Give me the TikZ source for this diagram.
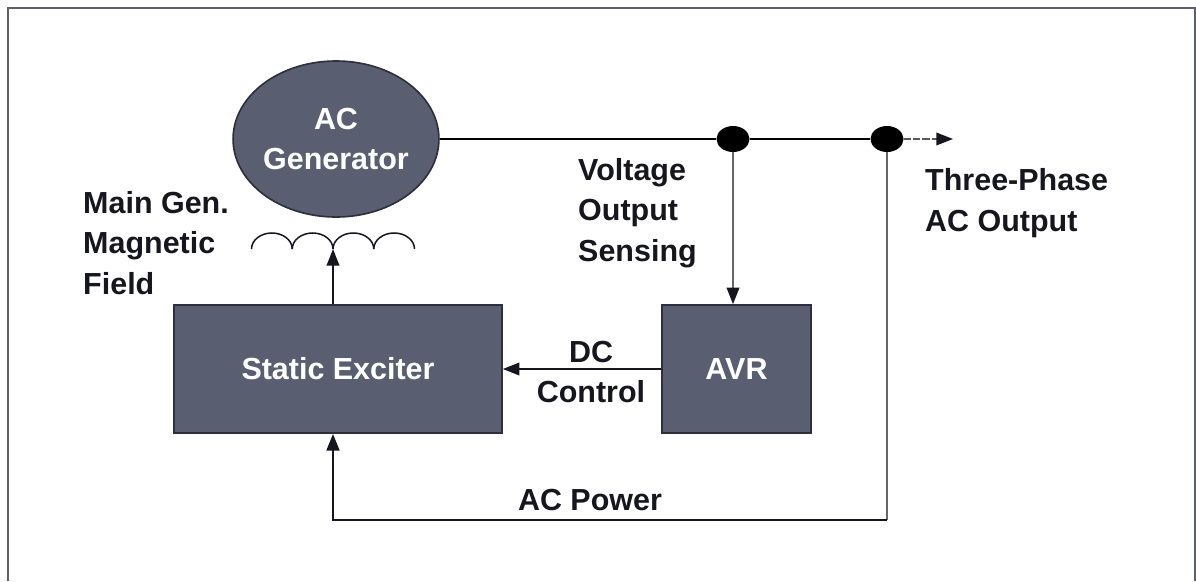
\documentclass[tikz,border=0pt]{standalone}
\usepackage{fontspec}
\setmainfont{Liberation Sans}
\usetikzlibrary{arrows.meta,shapes.geometric}
\definecolor{bxFill}{RGB}{89,94,113}
\definecolor{bxDraw}{RGB}{45,47,60}
\definecolor{txDark}{RGB}{22,22,30}
\definecolor{frGray}{RGB}{95,95,105}
\newcommand{\pxl}{0.3mm}

\begin{document}
\begin{tikzpicture}[x=0.3mm,y=-0.3mm,font=\fontsize{26}{34.5}\selectfont\bfseries,
  blk/.style={draw=bxDraw,fill=bxFill,line width=1.4pt,text=white,inner sep=0pt,
              minimum height=128*\pxl},
  gen/.style={ellipse,draw=bxDraw,fill=bxFill,line width=1.4pt,text=white,align=center,
              inner sep=0pt,minimum width=188*\pxl,minimum height=156*\pxl},
  tap/.style={ellipse,fill=black,inner sep=0pt,minimum width=33*\pxl,minimum height=26*\pxl},
  bus/.style={black,line width=2.3pt},
  sense/.style={gray!80!black,line width=1.5pt},
  fl/.style={-{Triangle[length=5mm,width=3.8mm,color=txDark]},line width=1.5pt,txDark},
  lab/.style={text=txDark,align=left,inner sep=0pt},
  frm/.style={frGray,line width=2pt}]
\useasboundingbox (0,0) rectangle (1196,581);
% ---- frame
\draw[frm] (8,581) -- (8,8) -- (1195,8) -- (1195,581);
% ---- blocks
\node[gen] (gen) at (336,139) {AC\\Generator};
\node[blk,minimum width=328*\pxl] (exc) at (338,369) {Static Exciter};
\node[blk,minimum width=149*\pxl] (avr) at (736.5,369) {AVR};
% ---- taps on the output line
\node[tap] (tap1) at (733,139) {};
\node[tap] (tap2) at (887,139) {};
\coordinate (tip) at (953,139);
\coordinate (coil) at (333,249);
\coordinate (cnr) at (333,520);
% ---- field winding
\foreach \k in {0,...,3}
  \draw[txDark,line width=1.3pt] (251.5+40.75*\k,249) arc[start angle=180,end angle=360,x radius=20.375,y radius=16];
% ---- labels
\node[lab,anchor=west] (fld) at (83,243) {Main Gen.\\Magnetic\\Field};
\node[lab,anchor=west] (sns) at (578,213) {Voltage\\Output\\Sensing};
\node[lab,anchor=west] (out) at (925,203) {Three-Phase\\AC Output};
\node[lab,align=center] (dcc) at (591,372) {DC\\Control};
\node[lab] (acp) at (590,500) {AC Power};
% ---- flows
\draw[bus] (gen.east) -- (tap1.west);
\draw[bus] (tap1.east) -- (tap2.west);
\draw[fl,gray!70!black,line width=1.2pt,dash pattern=on 6pt off 2pt] (tap2.east) -- (tip);
\draw[fl,sense] (tap1.south) -- (tap1.south |- avr.north);
\draw[fl] (avr.west) -- (exc.east);
\draw[sense] (tap2.south) -- (tap2 |- cnr);
\draw[fl,line width=2.3pt] (tap2 |- cnr) -- (cnr) -- (cnr |- exc.south);
\draw[fl] (coil |- exc.north) -- (coil);
\end{tikzpicture}
\end{document}
